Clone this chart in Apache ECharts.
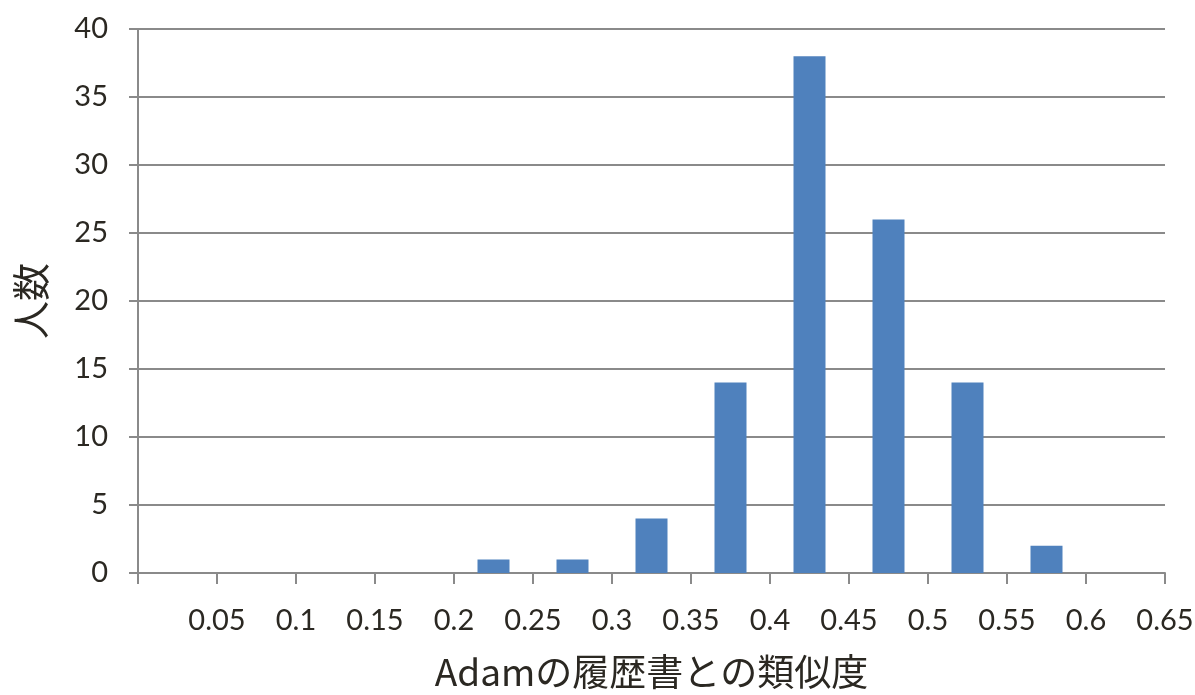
<!DOCTYPE html>
<html>
<head>
<meta charset="utf-8">
<script src="https://cdn.jsdelivr.net/npm/echarts@6/dist/echarts.min.js"></script>
<style>
html,body{margin:0;padding:0;background:#fff;}
#chart{width:1195px;height:695px;}
</style>
</head>
<body>
<div id="chart"></div>
<script>
// Histogram bins (lower edge .. upper edge) and counts
const binLower = [0, 0.05, 0.1, 0.15, 0.2, 0.25, 0.3, 0.35, 0.4, 0.45, 0.5, 0.55, 0.6];
const binUpper = [0.05, 0.1, 0.15, 0.2, 0.25, 0.3, 0.35, 0.4, 0.45, 0.5, 0.55, 0.6, 0.65];
const counts   = [0, 0, 0, 0, 1, 1, 4, 14, 38, 26, 14, 2, 0];
const xTickLabels = ['0.05','0.1','0.15','0.2','0.25','0.3','0.35','0.4','0.45','0.5','0.55','0.6','0.65'];
const xName = 'Adamの履歴書との類似度';
const yName = '人数';

const seriesData = binLower.map((lo, i) => [(lo + binUpper[i]) / 2, counts[i]]);

const chart = echarts.init(document.getElementById('chart'), null, {renderer: 'canvas'});
const labelFont = 'Lato, "Open Sans", sans-serif';
const titleFont = '"Noto Sans CJK JP", sans-serif';
chart.setOption({
  animation: false,
  backgroundColor: '#ffffff',
  grid: {left: 138, right: 30, top: 29, bottom: 122, containLabel: false, outerBoundsMode: 'none'},
  xAxis: {
    type: 'value',
    min: 0, max: 0.65, interval: 0.05,
    name: xName,
    nameLocation: 'middle',
    nameGap: 80,
    nameTextStyle: {fontFamily: titleFont, fontSize: 37, color: '#2b2822'},
    axisLine: {show: true, lineStyle: {color: '#8a8a8a', width: 2}},
    axisTick: {show: true, length: 11, lineStyle: {color: '#8a8a8a', width: 2}},
    splitLine: {show: false},
    axisLabel: {
      margin: 33,
      fontFamily: labelFont, fontSize: 29, color: '#2b2822',
      formatter: function (v) {
        const idx = Math.round(v / 0.05) - 1;
        return idx >= 0 ? xTickLabels[idx] : '';
      }
    }
  },
  yAxis: {
    type: 'value',
    min: 0, max: 40, interval: 5,
    name: yName,
    nameLocation: 'middle',
    nameGap: 88,
    nameRotate: 90,
    nameTextStyle: {fontFamily: titleFont, fontSize: 38, color: '#2b2822'},
    axisLine: {show: true, lineStyle: {color: '#8a8a8a', width: 2}},
    axisTick: {show: true, length: 9, lineStyle: {color: '#8a8a8a', width: 2}},
    splitLine: {show: true, lineStyle: {color: '#8a8a8a', width: 2}},
    axisLabel: {margin: 30, fontFamily: labelFont, fontSize: 29, color: '#2b2822'}
  },
  series: [{
    type: 'bar',
    data: seriesData,
    barWidth: 32,
    itemStyle: {color: '#4f81bd'}
  }]
});
</script>
</body>
</html>
